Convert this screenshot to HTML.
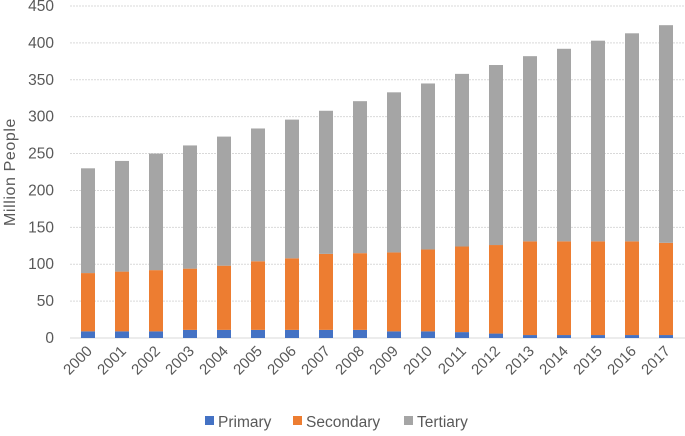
<!DOCTYPE html>
<html><head><meta charset="utf-8"><style>
body{margin:0;background:#fff;font-family:"Liberation Sans",sans-serif}
text{font-family:"Liberation Sans",sans-serif;fill:#595959}
</style></head><body>
<svg id="c" width="685" height="431"></svg>
<script>
const years=["2000","2001","2002","2003","2004","2005","2006","2007","2008","2009","2010","2011","2012","2013","2014","2015","2016","2017"];
const primary=[9,9,9,11,11,11,11,11,11,9,9,8,6,4,4,4,4,4];
const secondary=[79,81,83,83,87,93,97,103,104,107,111,116,120,127,127,127,127,125];
const tertiary=[142,150,158,167,175,180,188,194,206,217,225,234,244,251,261,272,282,295];
const ticks=[0,50,100,150,200,250,300,350,400,450];
const NS="http://www.w3.org/2000/svg";
const svg=document.getElementById('c');
const y0=338,ppu=332/450,x0=88,step=34,bw=14;
const Y=v=>y0-v*ppu, X=i=>x0+i*step;
function mk(t,a,p){const e=document.createElementNS(NS,t);for(const k in a)e.setAttribute(k,a[k]);(p||svg).appendChild(e);return e;}
ticks.forEach(t=>{
 const l=mk('line',{x1:70,x2:685,y1:Y(t),y2:Y(t),stroke:'#d9d9d9','stroke-width':1,'stroke-dasharray':t===0?'':'2,1'});
 
 
 const tx=mk('text',{x:54,y:Y(t)+5,'text-anchor':'end','font-size':15.5});
 tx.textContent=t;
 
 
});
const cols=['#4472c4','#ed7d31','#a5a5a5'];
const series=[primary,secondary,tertiary];
years.forEach((yr,i)=>{
 let base=0;
 series.forEach((s,k)=>{
  const r=mk('rect',{x:X(i)-bw/2,y:Y(base+s[i]),width:bw,height:s[i]*ppu,fill:cols[k]});
  
  
  base+=s[i];
 });
 const t=mk('text',{x:X(i)+5,y:352,'text-anchor':'end','font-size':15,transform:`rotate(-45 ${X(i)+5} 352)`});
 t.textContent=yr;
 
 
});
const at=mk('text',{x:15,y:172,'text-anchor':'middle','font-size':16,'letter-spacing':0.6,transform:'rotate(-90 15 172)'});
at.textContent='Million People';


const leg=[['Primary',205],['Secondary',293],['Tertiary',404]];
leg.forEach((l,k)=>{
 const g=mk('g',{});
 
 
 mk('rect',{x:l[1],y:416,width:9,height:9,fill:cols[k]},g);
 const t=mk('text',{x:l[1]+13,y:427,'font-size':15.5},g);
 t.textContent=l[0];
});
</script>
</body></html>
